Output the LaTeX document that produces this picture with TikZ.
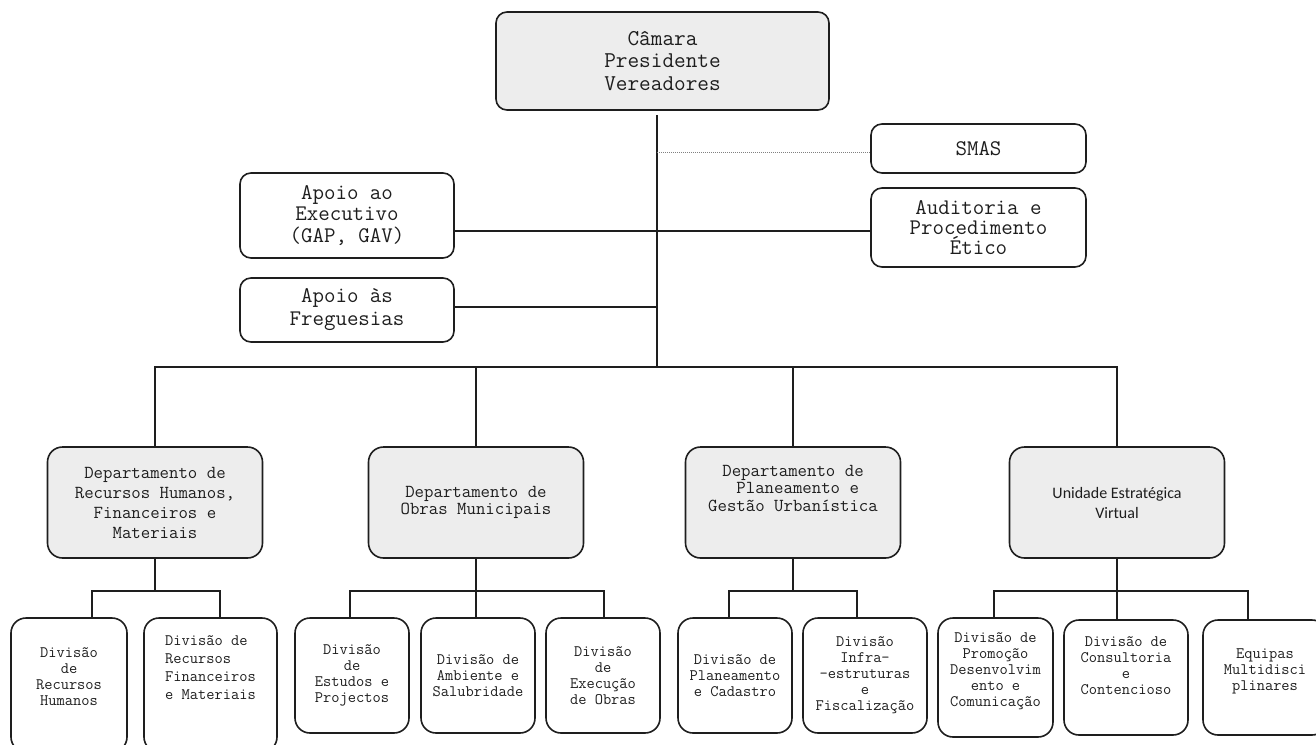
\documentclass[tikz,border=0pt]{standalone}
\usepackage{fontspec}
\newfontfamily\carlito{Carlito}
\usepackage{tikz}
\usetikzlibrary{positioning}
\definecolor{boxgray}{HTML}{EDEDED}
\definecolor{inkgray}{HTML}{1E1E1E}
\tikzstyle{conn} = [line width=1.5pt, draw=inkgray]
\tikzstyle{dotconn} = [line width=0.9pt, draw=gray, dash pattern=on 1pt off 1pt]
\tikzstyle{topbox} = [rectangle, rounded corners=11pt, draw=inkgray, line width=1.6pt, align=center, inner sep=2pt, outer sep=0pt, text=inkgray, font=\ttfamily\fontsize{22.3}{21.5}\selectfont]
\tikzstyle{headbox} = [topbox, fill=boxgray]
\tikzstyle{depbox} = [rectangle, rounded corners=15pt, draw=inkgray, fill=boxgray, line width=1.6pt, align=center, inner sep=2pt, outer sep=0pt, minimum width=215pt, minimum height=111pt, text=inkgray, font=\ttfamily\fontsize{18.3}{17.5}\selectfont]
\tikzstyle{divbox} = [rectangle, rounded corners=15pt, draw=inkgray, line width=1.6pt, align=center, inner sep=2pt, outer sep=0pt, minimum width=114pt, minimum height=115pt, text=inkgray, font=\ttfamily\fontsize{16}{16}\selectfont]
\newcommand{\pushup}[1]{\\\rule{0pt}{#1}}

\begin{document}
\begin{tikzpicture}[x=1pt, y=-1pt]
    \clip (0,0) rectangle (1316,744);
    % top level
    \node (camara) [headbox, minimum width=333pt, minimum height=98pt, font=\ttfamily\fontsize{22.6}{22.5}\selectfont] at (662.5,61) {Câmara\\Presidente\\Vereadores};
    \node (smas) [topbox, minimum width=215pt, minimum height=49pt] at (978.5,148.5) {SMAS};
    \node (auditoria) [topbox, below=15pt of smas, minimum width=215pt, minimum height=79pt, font=\ttfamily\fontsize{22.3}{20}\selectfont] {Auditoria e\\Procedimento\\Ético};
    \node (apoioexec) [topbox, minimum width=214pt, minimum height=85pt] at (347,215.5) {Apoio ao\\Executivo\\(GAP, GAV)};
    \node (apoiofreg) [topbox, below=20pt of apoioexec, minimum width=214pt, minimum height=64pt, font=\ttfamily\fontsize{22.3}{23}\selectfont] {Apoio às\\Freguesias};
    \coordinate (trunk) at (657,115);
    \coordinate (bus) at (657,367);
    \coordinate (jsmas) at (657,152);
    \coordinate (jexec) at (657,231);
    \coordinate (jfreg) at (657,307);
    % departments
    \node (dep1) [depbox, font=\ttfamily\fontsize{18.3}{20}\selectfont] at (155,502.5) {Departamento de\\Recursos Humanos,\\Financeiros e\\Materiais};
    \node (dep2) [depbox] at (476,502.5) {Departamento de\\Obras Municipais};
    \node (dep3) [depbox] at (793,502.5) {Departamento de\\~Planeamento e\\Gestão Urbanística\pushup{27pt}};
    \node (dep4) [depbox, font=\carlito\fontsize{16}{20}\selectfont] at (1117,502.5) {Unidade Estratégica\\Virtual};
    % divisions
    \node (divA) [divbox, minimum width=116pt, minimum height=134pt] at (69,685) {Divisão\\de\\Recursos\\Humanos\pushup{12pt}};
    \node (divB) [divbox, right=17pt of divA, minimum width=133pt, minimum height=134pt, align=left, font=\ttfamily\fontsize{16}{18}\selectfont] {Divisão de\\Recursos\\Financeiros\\e Materiais\pushup{33pt}};
    \node (divC) [divbox] at (352,675.5) {Divisão\\de\\Estudos e\\Projectos};
    \node (divD) [divbox, right=12pt of divC] {Divisão de\\Ambiente e\\Salubridade};
    \node (divE) [divbox, right=11pt of divD] {Divisão\\de\\Execução\\de Obras};
    \node (divF) [divbox] at (735,675.5) {Divisão de\\Planeamento\\e Cadastro};
    \node (divG) [divbox, right=11pt of divF, minimum width=124pt] {Divisão\\Infra-\\-estruturas\\e\\Fiscalização};
    \node (divH) [divbox, minimum width=115pt, minimum height=119pt] at (995.5,677.5) {Divisão de\\Promoção\\Desenvolvim\\ento e\\Comunicação\pushup{12pt}};
    \node (divI) [divbox, right=11pt of divH, minimum width=124pt] {Divisão de\\Consultoria\\e\\Contencioso\pushup{22pt}};
    \node (divJ) [divbox, right=15pt of divI, minimum width=124pt] {Equipas\\Multidisci\\plinares\pushup{12pt}};
    % connectors
    \draw [conn] (trunk) -- (bus);
    \draw [dotconn] (jsmas) -- (jsmas -| smas.west);
    \draw [conn] (apoioexec.east |- jexec) -- (jexec -| auditoria.west);
    \draw [conn] (apoiofreg.east |- jfreg) -- (jfreg);
    \draw [conn] (dep1.north) |- (bus) -| (dep4.north);
    \draw [conn] (dep2.north) -- (dep2.north |- bus);
    \draw [conn] (dep3.north) -- (dep3.north |- bus);
    \draw [conn] (dep1.south) -- ++(0,33);
    \draw [conn] ([xshift=23pt]divA.north) -- ++(0,-27) -| ([xshift=9.5pt]divB.north);
    \draw [conn] (dep2.south) -- (dep2.south |- divD.north);
    \draw [conn] ([xshift=-2pt]divC.north) -- ++(0,-27) -| ([xshift=1pt]divE.north);
    \draw [conn] (dep3.south) -- ++(0,33);
    \draw [conn] ([xshift=-6pt]divF.north) -- ++(0,-27) -| ([xshift=-8pt]divG.north);
    \draw [conn] (dep4.south) -- (dep4.south |- divI.north);
    \draw [conn] ([xshift=-1.5pt]divH.north) -- ++(0,-27) -| ([xshift=-17pt]divJ.north);
\end{tikzpicture}
\end{document}
